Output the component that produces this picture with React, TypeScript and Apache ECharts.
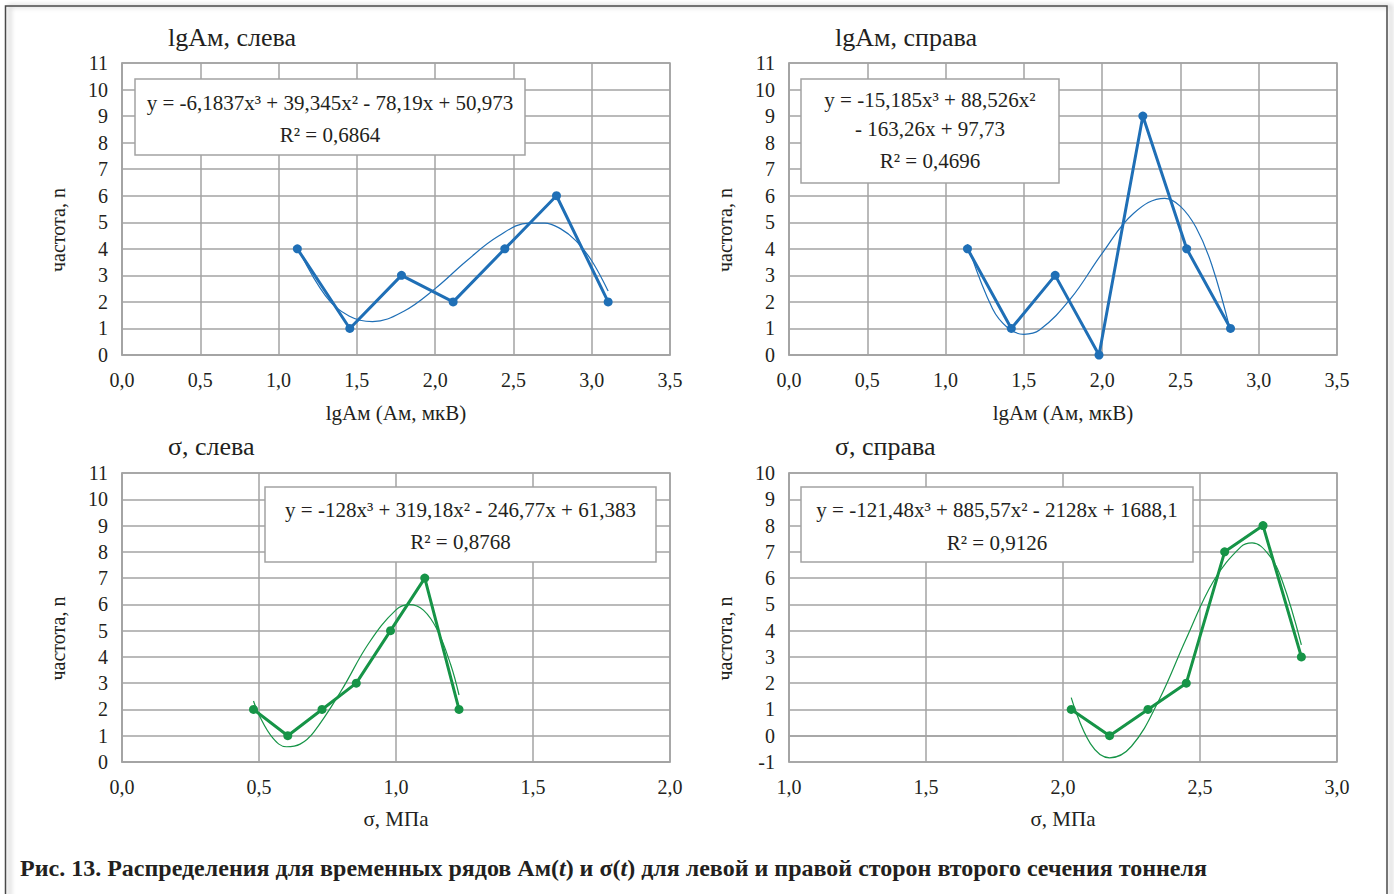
import React, { useEffect, useRef } from "react";
import * as echarts from "echarts";

const FONT = "Liberation Serif, Times New Roman, serif";
const TEXT = "#231f20";
const GRIDC = "#a3a3a3";
const BLUE = "#1f6fb6";
const GREEN = "#169447";

// ---------- data ----------
const titles = ["lgAм, слева", "lgAм, справа", "σ, слева", "σ, справа"];
const xNames = ["lgAм (Ам, мкВ)", "lgAм (Ам, мкВ)", "σ, МПа", "σ, МПа"];
const yName = "частота, n";

const xMin = [0, 0, 0, 1];
const xMax = [3.5, 3.5, 2, 3];
const yMin = [0, 0, 0, -1];
const yMax = [11, 11, 11, 10];

// panel 1: lgAм, слева
const p1X = [1.12, 1.455, 1.785, 2.115, 2.445, 2.775, 3.105];
const p1N = [4, 1, 3, 2, 4, 6, 2];
const p1TrendX = [1.12, 1.3, 1.45, 1.6, 1.8, 2.0, 2.2, 2.4, 2.6, 2.7, 2.8, 2.9, 3.0, 3.105];
const p1TrendY = [4.07, 2.23, 1.47, 1.26, 1.65, 2.5, 3.54, 4.46, 4.97, 4.97, 4.76, 4.3, 3.55, 2.41];

// panel 2: lgAм, справа
const p2X = [1.14, 1.42, 1.7, 1.98, 2.26, 2.54, 2.82];
const p2N = [4, 1, 3, 0, 9, 4, 1];
const p2TrendX = [1.14, 1.3, 1.4, 1.5, 1.6, 1.8, 2.0, 2.2, 2.4, 2.5, 2.6, 2.7, 2.82];
const p2TrendY = [4.17, 1.74, 1.01, 0.78, 0.94, 2.13, 3.83, 5.33, 5.9, 5.6, 4.8, 3.4, 0.9];

// panel 3: σ, слева
const p3X = [0.48, 0.605, 0.73, 0.855, 0.98, 1.105, 1.23];
const p3N = [2, 1, 2, 3, 5, 7, 2];
const p3TrendX = [0.48, 0.5, 0.55, 0.6, 0.65, 0.7, 0.8, 0.9, 1.0, 1.05, 1.1, 1.15, 1.2, 1.23];
const p3TrendY = [2.32, 1.79, 0.92, 0.58, 0.68, 1.14, 2.71, 4.51, 5.79, 5.99, 5.78, 5.04, 3.69, 2.55];

// panel 4: σ, справа
const p4X = [2.03, 2.17, 2.31, 2.45, 2.59, 2.73, 2.87];
const p4N = [1, 0, 1, 2, 7, 8, 3];
const p4TrendX = [2.03, 2.1, 2.17, 2.25, 2.35, 2.45, 2.55, 2.65, 2.69, 2.75, 2.8, 2.87];
const p4TrendY = [1.45, -0.3, -0.84, -0.4, 1.35, 3.7, 5.9, 7.2, 7.34, 6.9, 5.9, 3.46];

const eqLines = [
  ["y = -6,1837x³ + 39,345x² - 78,19x + 50,973", "R² = 0,6864"],
  ["y = -15,185x³ + 88,526x²", "- 163,26x + 97,73", "R² = 0,4696"],
  ["y = -128x³ + 319,18x² - 246,77x + 61,383", "R² = 0,8768"],
  ["y = -121,48x³ + 885,57x² - 2128x + 1688,1", "R² = 0,9126"],
];

const captionParts = [
  "Рис. 13. Распределения для временных рядов Ам(",
  "t",
  ") и σ(",
  "t",
  ") для левой и правой сторон второго сечения тоннеля",
];

// ---------- layout ----------
const grids = [
  { left: 122, top: 63, width: 548, height: 292 },
  { left: 789, top: 63, width: 548, height: 292 },
  { left: 122, top: 473, width: 548, height: 289 },
  { left: 789, top: 473, width: 548, height: 289 },
];
const titlePos = [
  { left: 168, top: 24 },
  { left: 835, top: 24 },
  { left: 168, top: 433 },
  { left: 835, top: 433 },
];
const eqBoxes = [
  { x: 135, y: 79, w: 390, h: 76, lineYs: [103, 135] },
  { x: 801, y: 79, w: 258, h: 104, lineYs: [100, 129, 161] },
  { x: 265, y: 487, w: 391, h: 75, lineYs: [510, 542] },
  { x: 801, y: 487, w: 392, h: 75, lineYs: [510, 543] },
];

const pairs = (xs: number[], ys: number[]) => xs.map((x, i) => [x, ys[i]]);

export default function App() {
  const ref = useRef<HTMLDivElement>(null);

  useEffect(() => {
    if (!ref.current) return;
    const chart = echarts.init(ref.current, null, { renderer: "svg" });

    const fmt = (v: number) => v.toFixed(1).replace(".", ",");

    const xAxis = grids.map((_, i) => ({
      type: "value",
      gridIndex: i,
      min: xMin[i],
      max: xMax[i],
      interval: 0.5,
      name: xNames[i],
      nameLocation: "middle",
      nameGap: i < 2 ? 47 : 46,
      nameTextStyle: { fontFamily: FONT, fontSize: 21, color: TEXT },
      axisLine: { show: true, lineStyle: { color: GRIDC, width: 1.5 } },
      axisTick: { show: false },
      axisLabel: { formatter: fmt, fontFamily: FONT, fontSize: 20, color: TEXT, margin: 15 },
      splitLine: { show: true, lineStyle: { color: GRIDC, width: 1.5 } },
    }));

    const yAxis = grids.map((_, i) => ({
      type: "value",
      gridIndex: i,
      min: yMin[i],
      max: yMax[i],
      interval: 1,
      name: yName,
      nameLocation: "middle",
      nameRotate: 90,
      nameGap: 54,
      nameTextStyle: { fontFamily: FONT, fontSize: 20, color: TEXT, padding: [0, 42, 0, 0] },
      axisLine: { show: true, lineStyle: { color: GRIDC, width: 1.5 } },
      axisTick: { show: false },
      axisLabel: { fontFamily: FONT, fontSize: 20, color: TEXT, margin: 14 },
      splitLine: { show: true, lineStyle: { color: GRIDC, width: 1.5 } },
    }));

    const dataSets = [
      { x: p1X, n: p1N, tx: p1TrendX, ty: p1TrendY, c: BLUE },
      { x: p2X, n: p2N, tx: p2TrendX, ty: p2TrendY, c: BLUE },
      { x: p3X, n: p3N, tx: p3TrendX, ty: p3TrendY, c: GREEN },
      { x: p4X, n: p4N, tx: p4TrendX, ty: p4TrendY, c: GREEN },
    ];

    const series: any[] = [];
    dataSets.forEach((d, i) => {
      series.push({
        type: "line",
        xAxisIndex: i,
        yAxisIndex: i,
        data: pairs(d.tx, d.ty),
        smooth: 0.4,
        showSymbol: false,
        lineStyle: { color: d.c, width: 1.2 },
        z: 2,
        silent: true,
      });
      series.push({
        type: "line",
        xAxisIndex: i,
        yAxisIndex: i,
        data: pairs(d.x, d.n),
        symbol: "circle",
        symbolSize: 9,
        itemStyle: { color: d.c },
        lineStyle: { color: d.c, width: 3 },
        z: 3,
      });
    });

    const graphic: any[] = [
      {
        type: "rect",
        shape: { x: 5.5, y: 6, width: 1381.5, height: 900 },
        style: {
          fill: "none",
          stroke: "#4a4a4a",
          lineWidth: 1.5,
          shadowColor: "rgba(0,0,0,0.35)",
          shadowBlur: 5,
          shadowOffsetX: 4,
          shadowOffsetY: 0,
        },
        z: 0,
        silent: true,
      },
    ];

    eqBoxes.forEach((b, i) => {
      graphic.push({
        type: "rect",
        shape: { x: b.x, y: b.y, width: b.w, height: b.h },
        style: { fill: "#ffffff", stroke: GRIDC, lineWidth: 1.5 },
        z: 10,
      });
      eqLines[i].forEach((t, k) => {
        graphic.push({
          type: "text",
          x: b.x + b.w / 2,
          y: b.lineYs[k],
          style: {
            text: t,
            fontFamily: FONT,
            fontSize: 21,
            fill: TEXT,
            textAlign: "center",
            textVerticalAlign: "middle",
          },
          z: 11,
        });
      });
    });

    graphic.push({
      type: "text",
      x: 20,
      y: 868,
      style: {
        text:
          captionParts[0] +
          "{i|" + captionParts[1] + "}" +
          captionParts[2] +
          "{i|" + captionParts[3] + "}" +
          captionParts[4],
        fontFamily: FONT,
        fontSize: 24,
        fontWeight: "bold",
        fill: TEXT,
        textVerticalAlign: "middle",
        rich: {
          i: { fontFamily: FONT, fontSize: 24, fontWeight: "bold", fontStyle: "italic", fill: TEXT },
        },
      },
      z: 11,
    });

    chart.setOption({
      animation: false,
      backgroundColor: "#ffffff",
      title: titles.map((t, i) => ({
        text: t,
        left: titlePos[i].left,
        top: titlePos[i].top,
        padding: 0,
        textStyle: { fontFamily: FONT, fontSize: 26, fontWeight: "normal", color: TEXT },
      })),
      grid: grids.map((g) => ({
        ...g,
        show: true,
        borderColor: GRIDC,
        borderWidth: 1.5,
        backgroundColor: "transparent",
        containLabel: false,
      })),
      xAxis,
      yAxis,
      series,
      graphic,
    });

    return () => chart.dispose();
  }, []);

  return (
    <div
      ref={ref}
      style={{ position: "fixed", left: 0, top: 0, width: 1394, height: 894, background: "#fff" }}
    />
  );
}
